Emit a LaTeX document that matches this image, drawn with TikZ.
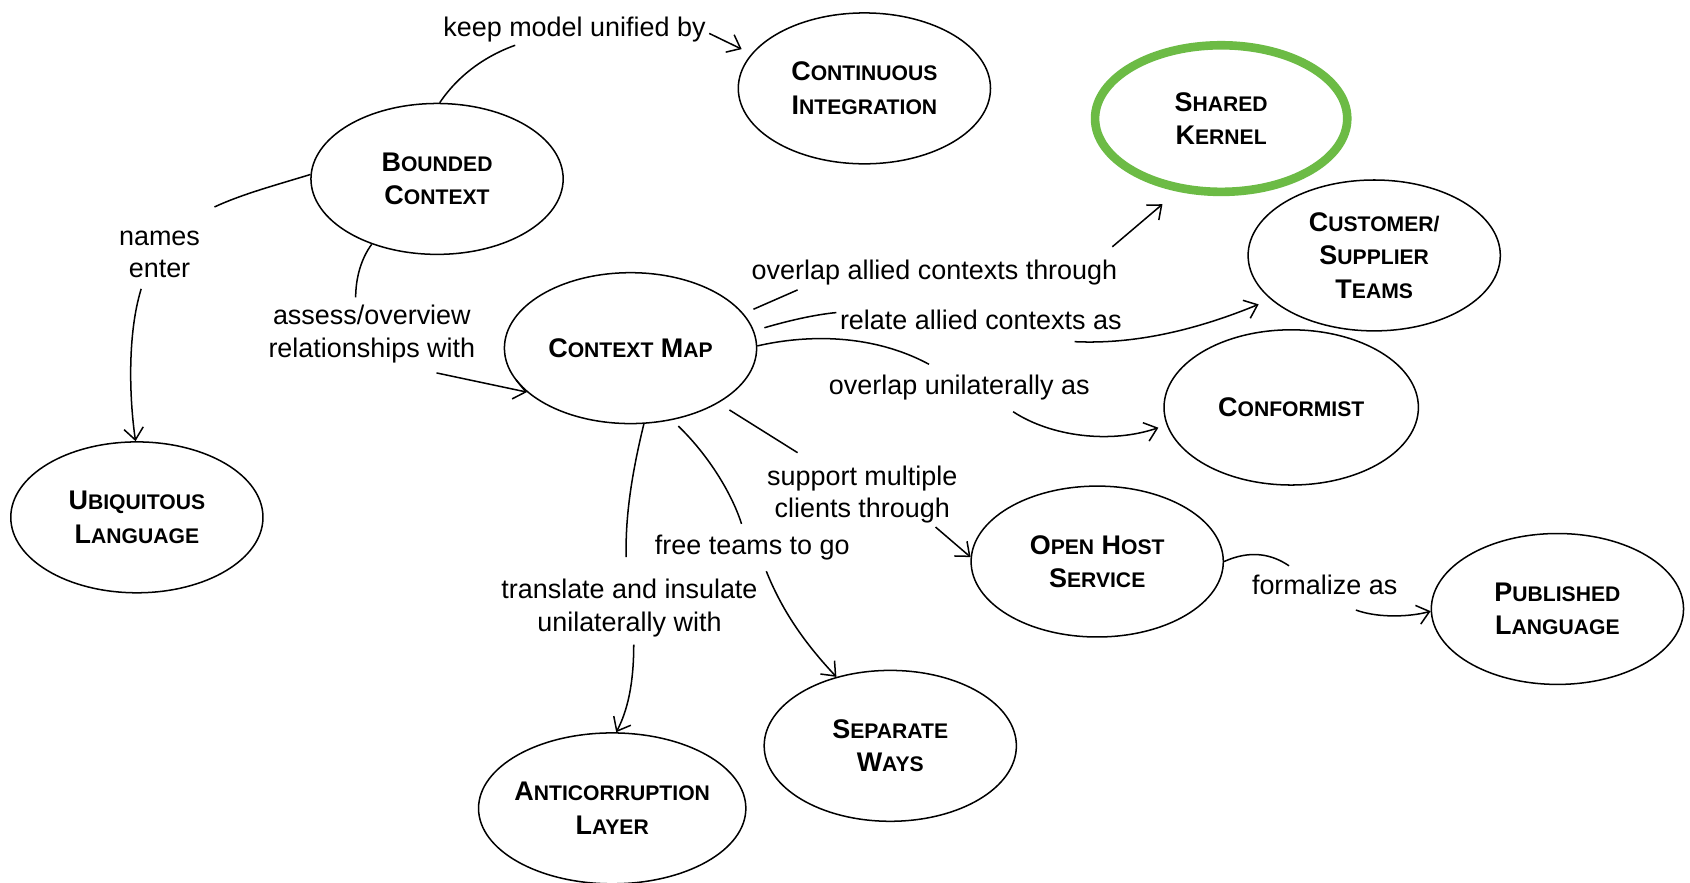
\documentclass[tikz,border=0pt]{standalone}
\usepackage{fontspec}
\setmainfont{Liberation Sans}
\usetikzlibrary{shapes.geometric,arrows.meta}
\definecolor{kgreen}{RGB}{108,187,69}
\newcommand{\Sc}[2]{{\fontsize{12.5}{15.5}\selectfont #1}{\fontsize{9.8}{15.5}\selectfont #2}}
\begin{document}
\begin{tikzpicture}[x=0.5pt,y=-0.5pt,
  concept/.style={ellipse,draw,line width=0.7pt,minimum width=117pt,minimum height=70pt,inner sep=0pt,align=center,font=\bfseries\fontsize{12.5}{15.5}\selectfont},
  lbl/.style={align=center,font=\fontsize{12.5}{15}\selectfont,inner sep=1pt},
  link/.style={line width=0.7pt},
  arr/.style={line width=0.7pt,-{Straight Barb[length=5.5pt,width=9pt]}}]
\useasboundingbox (0,0) rectangle (1568,819);
\fill[white] (0,0) rectangle (1568,819);

% concepts
\node[concept] (bc) at (405.5,166) {\Sc{B}{OUNDED}\\\Sc{C}{ONTEXT}};
\node[concept] (ci) at (802,82) {\Sc{C}{ONTINUOUS}\\\Sc{I}{NTEGRATION}};
\node[concept,draw=kgreen,line width=4pt,minimum height=68pt] (sk) at (1133,110) {\Sc{S}{HARED}\\\Sc{K}{ERNEL}};
\node[concept] (cst) at (1275,237) {\Sc{C}{USTOMER/}\\\Sc{S}{UPPLIER}\\\Sc{T}{EAMS}};
\node[concept,minimum width=118pt,minimum height=72pt] (conf) at (1198,378) {\Sc{C}{ONFORMIST}};
\node[concept] (cm) at (585,323) {\Sc{C}{ONTEXT} \Sc{M}{AP}};
\node[concept] (ul) at (127,480) {\Sc{U}{BIQUITOUS}\\\Sc{L}{ANGUAGE}};
\node[concept] (ohs) at (1018,521) {\Sc{O}{PEN} \Sc{H}{OST}\\\Sc{S}{ERVICE}};
\node[concept] (pl) at (1445,565) {\Sc{P}{UBLISHED}\\\Sc{L}{ANGUAGE}};
\node[concept] (sw) at (826,692) {\Sc{S}{EPARATE}\\\Sc{W}{AYS}};
\node[concept,minimum width=124pt,inner xsep=-6pt] (acl) at (568,750) {\Sc{A}{NTICORRUPTION}\\\Sc{L}{AYER}};

% labels
\node[lbl] (l1) at (533,27) {keep model unified by};
\node[lbl] (l2) at (148,236) {names\\enter};
\node[lbl] (l3) at (345,310) {assess/overview\\relationships with};
\node[lbl] (l4) at (867,253) {overlap allied contexts through};
\node[lbl] (l5) at (910,297) {relate allied contexts as};
\node[lbl] (l6) at (890,360) {overlap unilaterally as};
\node[lbl] (l7) at (800,459) {support multiple\\clients through};
\node[lbl] (l8) at (698,508) {free teams to go};
\node[lbl] (l9) at (584,564) {translate and insulate\\unilaterally with};
\node[lbl] (l10) at (1229,543) {formalize as};

% keep model unified by
\coordinate (e1) at (478,42);
\draw[link] (bc.88) .. controls (425,70) and (450,52) .. (e1);
\coordinate (s1) at (658,31);
\draw[arr,shorten >=5pt] (s1) -- (ci.163);

% names enter
\coordinate (e2) at (199,192);
\draw[link] (bc.178) .. controls (255,172) and (225,180) .. (e2);
\coordinate (s2) at (131,268);
\draw[arr] (s2) .. controls (118,310) and (120,370) .. (ul.91);

% assess/overview
\coordinate (e3) at (330,276);
\draw[link] (bc.225) .. controls (335,240) and (330,258) .. (e3);
\coordinate (s3) at (405,346);
\draw[arr] (s3) -- (cm.203);

% overlap allied contexts through
\coordinate (e4) at (740,269);
\draw[link,shorten <=5pt] (cm.17) -- (e4);
\coordinate (s4) at (1032,229);
\draw[arr,shorten >=9pt] (s4) -- (sk.239);

% relate allied contexts as
\coordinate (e5) at (776,290);
\draw[link,shorten <=5pt] (cm.8) .. controls (730,298) and (755,292) .. (e5);
\coordinate (s5) at (997,317);
\draw[arr,shorten >=6pt] (s5) .. controls (1060,320) and (1120,302) .. (cst.203);

% overlap unilaterally as
\coordinate (e6) at (862,338);
\draw[link] (cm.1) .. controls (750,310) and (810,310) .. (e6);
\coordinate (s6) at (940,382);
\draw[arr,shorten >=4pt] (s6) .. controls (975,405) and (1030,412) .. (conf.188);

% support multiple clients through
\coordinate (e7) at (740,420);
\draw[link,shorten <=6pt] (cm.-32) -- (e7);
\coordinate (s7) at (868,489);
\draw[arr] (s7) -- (ohs.178);

% free teams to go
\coordinate (e8) at (688,486);
\draw[link,shorten <=4pt] (cm.-60) .. controls (655,420) and (678,455) .. (e8);
\coordinate (s8) at (711,530);
\draw[arr] (s8) .. controls (725,565) and (745,595) .. (sw.128);

% translate and insulate unilaterally with
\coordinate (e9) at (581,517);
\draw[link] (cm.-80) .. controls (586,440) and (580,480) .. (e9);
\coordinate (s9) at (588,598);
\draw[arr] (s9) .. controls (588,635) and (582,660) .. (acl.87);

% formalize as
\coordinate (e10) at (1196,525);
\draw[link] (ohs.0) .. controls (1160,510) and (1180,514) .. (e10);
\coordinate (s10) at (1258,566);
\draw[arr] (s10) .. controls (1280,574) and (1310,572) .. (pl.181);
\end{tikzpicture}
\end{document}
